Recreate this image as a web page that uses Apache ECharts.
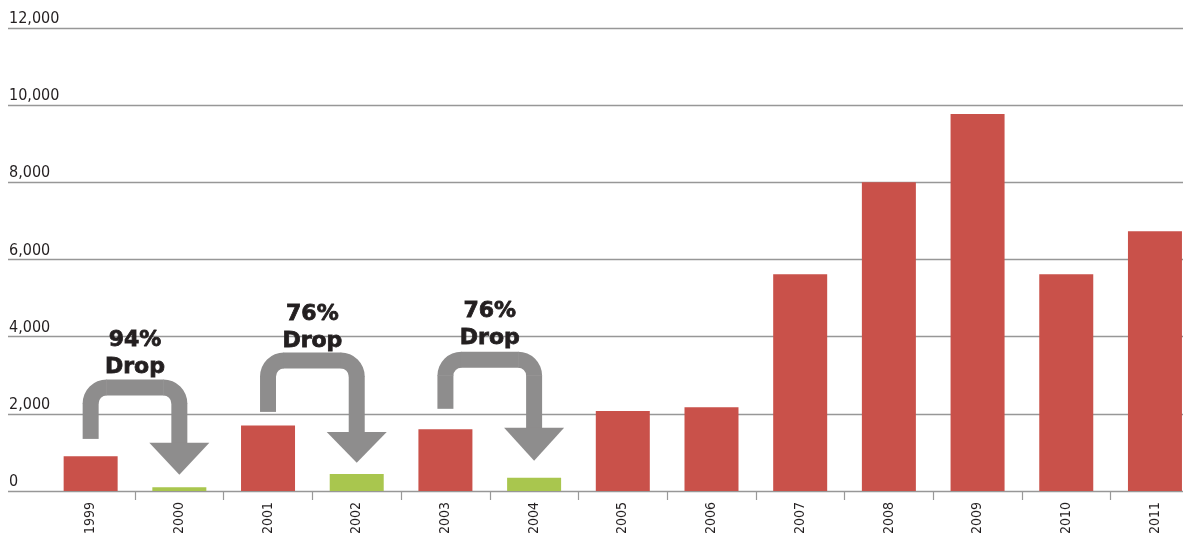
<!DOCTYPE html>
<html>
<head>
<meta charset="utf-8">
<script src="https://cdn.jsdelivr.net/npm/echarts@6/dist/echarts.min.js"></script>
<style>
html,body{margin:0;padding:0;background:#fff;}
#chart{width:1183px;height:533px;}
</style>
</head>
<body>
<div id="chart"></div>
<script>
// ---- data ----
var years = ['1999','2000','2001','2002','2003','2004','2005','2006','2007','2008','2009','2010','2011'];
var values = [900, 100, 1700, 440, 1600, 345, 2075, 2170, 5620, 8000, 9770, 5620, 6730];
var dropYears = ['2000','2002','2004'];
var yTicks = [0, 2000, 4000, 6000, 8000, 10000, 12000];
// annotation arrows: from year, to year, stem bottom, arrow top, head top, head tip, label bottom (value units)
var arrowFrom = ['1999','2001','2003'];
var arrowTo = ['2000','2002','2004'];
var arrowBottom = [1350, 2050, 2130];
var arrowTop = [2890, 3590, 3610];
var arrowHeadTop = [1250, 1530, 1640];
var arrowTip = [420, 730, 785];
var labelBottom = [2850, 3530, 3600];
var dropLabels = ['94%\nDrop', '76%\nDrop', '76%\nDrop'];

var RED = '#c9514a', GREEN = '#a9c64e', GRAY = '#8e8d8d';
var AXIS_FONT = '"DejaVu Sans Condensed","Liberation Sans Narrow","Liberation Sans",sans-serif';

var arrowData = arrowFrom.map(function (f, i) {
  return [years.indexOf(f), years.indexOf(arrowTo[i]), arrowBottom[i], arrowTop[i], arrowHeadTop[i], arrowTip[i], labelBottom[i]];
});

var chart = echarts.init(document.getElementById('chart'), null, {renderer: 'canvas'});
var option = {
  backgroundColor: '#fff',
  animation: false,
  grid: [
    {left: 8, right: 0, top: 28, bottom: 42, containLabel: false, outerBoundsMode: 'none'},
    {left: 46.3, width: 1153, top: 28, bottom: 42, containLabel: false, outerBoundsMode: 'none'}
  ],
  xAxis: [
    {gridIndex: 0, type: 'value', show: false, min: 0, max: 1},
    {
      gridIndex: 1, type: 'category', data: years, boundaryGap: true,
      axisLine: {show: false},
      axisTick: {show: true, length: 9, lineStyle: {color: '#999', width: 1.2},
        interval: function (i) { return i > 0; }},
      axisLabel: {interval: 0, rotate: 90, margin: 11, color: '#231f20',
        fontFamily: AXIS_FONT, fontSize: 14}
    }
  ],
  yAxis: [
    {
      gridIndex: 0, type: 'value', min: yTicks[0], max: yTicks[yTicks.length - 1], interval: 2000,
      axisLine: {show: false}, axisTick: {show: false},
      splitLine: {show: true, lineStyle: {color: '#979797', width: 1.3}},
      axisLabel: {
        inside: true, margin: 1, verticalAlign: 'bottom', padding: [0, 0, 1, 0],
        color: '#231f20', fontFamily: AXIS_FONT, fontSize: 16,
        formatter: function (v) { return v === 0 ? '0' : v.toLocaleString('en-US'); }
      }
    },
    {gridIndex: 1, type: 'value', min: 0, max: 12000, interval: 2000, show: false, splitLine: {show: false}}
  ],
  series: [
    {
      type: 'bar', xAxisIndex: 1, yAxisIndex: 1, data: values, barWidth: 54, z: 3,
      itemStyle: {
        color: function (p) { return dropYears.indexOf(years[p.dataIndex]) >= 0 ? GREEN : RED; }
      }
    },
    {
      type: 'custom', xAxisIndex: 1, yAxisIndex: 1, data: arrowData, z: 5, clip: false,
      encode: {x: [0, 1], y: [2, 3, 4, 5, 6]},
      renderItem: function (params, api) {
        var x1 = api.coord([api.value(0), 0])[0];
        var x2 = api.coord([api.value(1), 0])[0];
        var yb = api.coord([0, api.value(2)])[1];
        var yt = api.coord([0, api.value(3)])[1];
        var hT = api.coord([0, api.value(4)])[1];
        var tip = api.coord([0, api.value(5)])[1];
        var lb = api.coord([0, api.value(6)])[1];
        var hw = 8, R = 16, headHalf = 30;
        var yc = yt + hw;
        var st = {fill: GRAY};
        return {
          type: 'group',
          children: [
            {type: 'rect', shape: {x: x1 - hw, y: yc + R - 0.5, width: 2 * hw, height: yb - (yc + R) + 0.5}, style: st},
            {type: 'sector', shape: {cx: x1 + R, cy: yc + R, r0: R - hw, r: R + hw, startAngle: Math.PI, endAngle: 1.5 * Math.PI, clockwise: true}, style: st},
            {type: 'rect', shape: {x: x1 + R - 0.5, y: yt, width: x2 - x1 - 2 * R + 1, height: 2 * hw}, style: st},
            {type: 'sector', shape: {cx: x2 - R, cy: yc + R, r0: R - hw, r: R + hw, startAngle: 1.5 * Math.PI, endAngle: 2 * Math.PI, clockwise: true}, style: st},
            {type: 'rect', shape: {x: x2 - hw, y: yc + R - 0.5, width: 2 * hw, height: hT - (yc + R) + 1}, style: st},
            {type: 'polygon', shape: {points: [[x2 - headHalf, hT], [x2 + headHalf, hT], [x2, tip]]}, style: st},
            {type: 'text', style: {
              text: dropLabels[params.dataIndex], x: (x1 + x2) / 2, y: lb,
              align: 'center', verticalAlign: 'bottom',
              font: 'bold 22px "DejaVu Sans", sans-serif', lineHeight: 27, fill: '#231f20',
              stroke: '#231f20', lineWidth: 0.8
            }}
          ]
        };
      }
    }
  ]
};
chart.setOption(option);
</script>
</body>
</html>
